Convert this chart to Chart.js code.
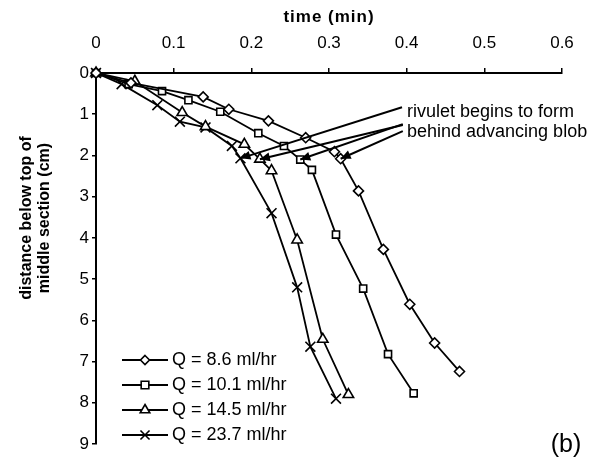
<!DOCTYPE html>
<html>
<head>
<meta charset="utf-8">
<script src="https://cdn.jsdelivr.net/npm/chart.js@4.4.0/dist/chart.umd.min.js"></script>
<style>
  html, body { margin: 0; padding: 0; background: #fff; }
</style>
</head>
<body>
<canvas id="myChart" width="603" height="461"></canvas>
<script>
// axis ticks
const xTicks = [0, 0.1, 0.2, 0.3, 0.4, 0.5, 0.6];
const yTicks = [0, 1, 2, 3, 4, 5, 6, 7, 8, 9];
const xTitle = "time (min)";
const yTitle = ["distance below top of", "middle section (cm)"];

// series (time in min, distance in cm)
const labels = ["Q = 8.6 ml/hr", "Q = 10.1 ml/hr", "Q = 14.5 ml/hr", "Q = 23.7 ml/hr"];
const time86 = [0, 0.045, 0.138, 0.171, 0.222, 0.270, 0.307, 0.315, 0.338, 0.370, 0.404, 0.436, 0.468];
const dist86 = [0, 0.24, 0.58, 0.88, 1.16, 1.57, 1.91, 2.08, 2.86, 4.28, 5.61, 6.55, 7.24];
const time101 = [0, 0.042, 0.085, 0.119, 0.160, 0.209, 0.242, 0.263, 0.278, 0.309, 0.344, 0.376, 0.409];
const dist101 = [0, 0.27, 0.44, 0.66, 0.94, 1.46, 1.77, 2.10, 2.35, 3.92, 5.23, 6.82, 7.77];
const time145 = [0, 0.050, 0.111, 0.141, 0.191, 0.211, 0.226, 0.259, 0.292, 0.325];
const dist145 = [0, 0.20, 0.96, 1.30, 1.73, 2.09, 2.37, 4.05, 6.46, 7.80];
const time237 = [0, 0.033, 0.079, 0.108, 0.141, 0.175, 0.186, 0.226, 0.259, 0.276, 0.309];
const dist237 = [0, 0.27, 0.78, 1.18, 1.32, 1.77, 2.07, 3.40, 5.20, 6.64, 7.90];

// annotation: index of the "rivulet" point in each series, and where the arrow starts
const rivuletIdx = [7, 7, 5, 6];
const noteText = ["rivulet begins to form", "behind advancing blob"];
const arrowFromX = [0.395, 0.395, 0.395, 0.394];
const arrowFromY = [1.41, 1.24, 1.26, 0.83];

const styles = ["rectRot", "rect", "triangle", "crossRot"];
const radii = [5, 5, 6, 7];

function toPoints(xs, ys) {
  return xs.map((x, i) => ({ x: x, y: ys[i] }));
}
const series = [toPoints(time86, dist86), toPoints(time101, dist101), toPoints(time145, dist145), toPoints(time237, dist237)];

const FONT = '"Liberation Sans", Arial, sans-serif';

function drawMarker(ctx, style, r, x, y) {
  ctx.save();
  ctx.lineWidth = 1.6;
  ctx.strokeStyle = "#000";
  ctx.fillStyle = "#fff";
  ctx.beginPath();
  if (style === "rectRot") {
    ctx.moveTo(x, y - r); ctx.lineTo(x + r, y); ctx.lineTo(x, y + r); ctx.lineTo(x - r, y); ctx.closePath();
    ctx.fill(); ctx.stroke();
  } else if (style === "rect") {
    const s = r * 0.85;
    ctx.rect(x - s, y - s, 2 * s, 2 * s); ctx.fill(); ctx.stroke();
  } else if (style === "triangle") {
    ctx.moveTo(x, y - r); ctx.lineTo(x + r * 0.87, y + r * 0.5); ctx.lineTo(x - r * 0.87, y + r * 0.5); ctx.closePath();
    ctx.fill(); ctx.stroke();
  } else {
    const s = r * 0.7;
    ctx.moveTo(x - s, y - s); ctx.lineTo(x + s, y + s); ctx.moveTo(x + s, y - s); ctx.lineTo(x - s, y + s);
    ctx.stroke();
  }
  ctx.restore();
}

const extras = {
  id: "extras",
  afterDraw(chart) {
    const ctx = chart.ctx;
    const xs = chart.scales.x, ys = chart.scales.y, area = chart.chartArea;
    ctx.save();
    ctx.fillStyle = "#000";
    ctx.strokeStyle = "#000";

    // axis titles
    ctx.font = "bold 17px " + FONT;
    ctx.textAlign = "center";
    ctx.textBaseline = "middle";
    ctx.letterSpacing = "1px";
    ctx.fillText(xTitle, (area.left + area.right) / 2, 17);
    ctx.letterSpacing = "0px";
    ctx.save();
    ctx.font = "bold 16px " + FONT;
    ctx.translate(36, 218);
    ctx.rotate(-Math.PI / 2);
    ctx.fillText(yTitle[0], 0, -9);
    ctx.fillText(yTitle[1], 0, 9);
    ctx.restore();

    // arrows to the rivulet points
    ctx.lineWidth = 2;
    series.forEach((pts, i) => {
      const p = pts[rivuletIdx[i]];
      const tx = xs.getPixelForValue(p.x), ty = ys.getPixelForValue(p.y);
      const fx = xs.getPixelForValue(arrowFromX[i]), fy = ys.getPixelForValue(arrowFromY[i]);
      ctx.beginPath();
      ctx.moveTo(fx, fy);
      ctx.lineTo(tx, ty);
      ctx.stroke();
      const a = Math.atan2(ty - fy, tx - fx);
      const L = 10, W = 4.5;
      ctx.beginPath();
      ctx.moveTo(tx, ty);
      ctx.lineTo(tx - L * Math.cos(a) + W * Math.sin(a), ty - L * Math.sin(a) - W * Math.cos(a));
      ctx.lineTo(tx - L * Math.cos(a) - W * Math.sin(a), ty - L * Math.sin(a) + W * Math.cos(a));
      ctx.closePath();
      ctx.fill();
    });

    // note text
    ctx.font = "18px " + FONT;
    ctx.textAlign = "left";
    ctx.fillText(noteText[0], 407, 112);
    ctx.fillText(noteText[1], 407, 132);

    // legend
    labels.forEach((lab, i) => {
      const y = 360 + i * 25;
      ctx.lineWidth = 2;
      ctx.beginPath();
      ctx.moveTo(122, y);
      ctx.lineTo(168, y);
      ctx.stroke();
      drawMarker(ctx, styles[i], radii[i] - 0.5, 145, y);
      ctx.fillStyle = "#000";
      ctx.font = "18px " + FONT;
      ctx.fillText(lab, 172, y);
    });

    // panel tag
    ctx.font = "25px " + FONT;
    ctx.textAlign = "center";
    ctx.fillText("(b)", 566, 445);
    ctx.restore();
  }
};

const datasets = series.map((pts, i) => ({
  label: labels[i],
  data: pts,
  showLine: true,
  borderColor: "#000",
  borderWidth: 1.8,
  pointStyle: styles[i],
  pointRadius: radii[i],
  pointBackgroundColor: "#fff",
  pointBorderColor: "#000",
  pointBorderWidth: 1.6,
  tension: 0,
  clip: false
}));

const config = {
  type: "scatter",
  data: { datasets: datasets },
  options: {
    responsive: false,
    animation: false,
    devicePixelRatio: 1,
    layout: { padding: { top: 0, left: 0, right: 41, bottom: 17 } },
    plugins: { legend: { display: false }, tooltip: { enabled: false } },
    scales: {
      x: {
        type: "linear",
        position: "top",
        min: 0,
        max: 0.6,
        afterBuildTicks: (s) => { s.ticks = xTicks.map((v) => ({ value: v })); },
        afterFit: (s) => { s.height = 73; },
        ticks: {
          color: "#000",
          font: { size: 17, family: FONT },
          padding: 14,
          callback: (v) => String(v)
        },
        grid: { display: true, drawOnChartArea: false, drawTicks: true, tickLength: 5, color: "#000", lineWidth: 1.5 },
        border: { display: true, color: "#000", width: 2 }
      },
      y: {
        type: "linear",
        reverse: true,
        min: 0,
        max: 9,
        afterBuildTicks: (s) => { s.ticks = yTicks.map((v) => ({ value: v })); },
        afterFit: (s) => { s.width = 96; },
        ticks: {
          color: "#000",
          font: { size: 17, family: FONT },
          padding: 3,
          callback: (v) => String(v)
        },
        grid: { display: true, drawOnChartArea: false, drawTicks: true, tickLength: 4, color: "#000", lineWidth: 1.5 },
        border: { display: true, color: "#000", width: 2 }
      }
    }
  },
  plugins: [extras]
};

var myChart = new Chart(document.getElementById("myChart"), config);
</script>
</body>
</html>
